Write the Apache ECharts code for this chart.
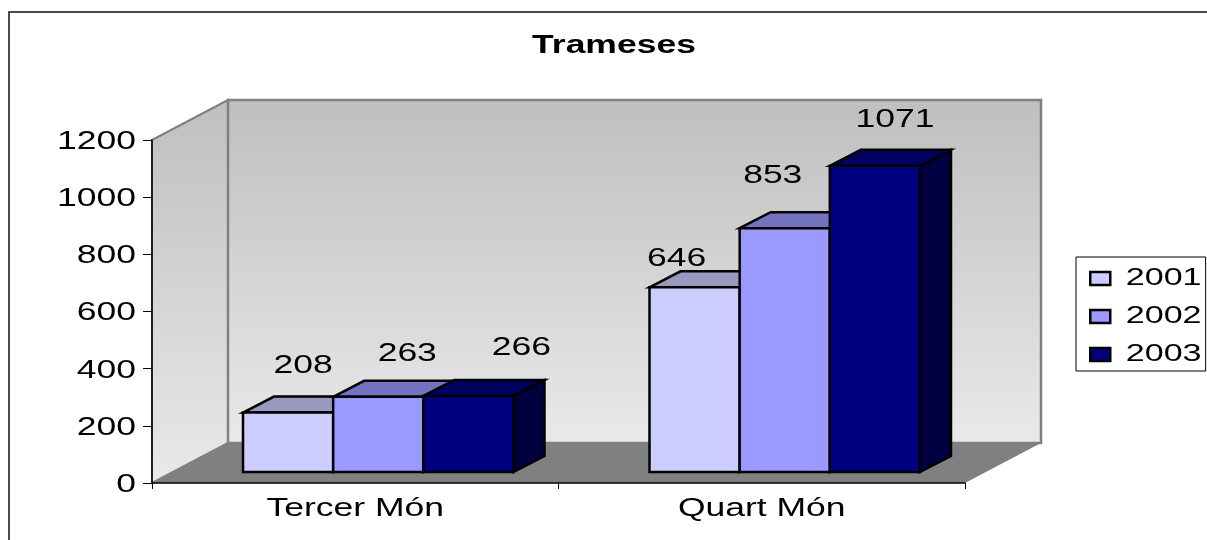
<!DOCTYPE html>
<html>
<head>
<meta charset="utf-8">
<style>html,body{margin:0;padding:0;background:#fff}#c{width:1207px;height:540px}</style>
<script src="https://cdn.jsdelivr.net/npm/echarts@6/dist/echarts.min.js"></script>
</head>
<body>
<div id="c"></div>
<script>
const titleText = 'Trameses';
const categories = ['Tercer Món', 'Quart Món'];
const seriesNames = ['2001', '2002', '2003'];
const values2001 = [208, 646];
const values2002 = [263, 853];
const values2003 = [266, 1071];
const valueSets = [values2001, values2002, values2003];

// Styling and layout, kept apart from the data
const frontColors = ['#CCCCFF', '#9999FF', '#000080'];
const topColors = ['#9999BF', '#7373BF', '#000060'];
const sideColors = ['#666680', '#4D4D80', '#000040'];
const labelDx = [[15, 29, 53], [-18, -12, 20]];   // per series-in-category nudges
const labelDy = [[-46, -43, -48], [-28, -52, -46]];
const wallDepth = [76, -40];
const barDepth = [31, -16];
const barShift = [23, -11];
const barWidthShare = 0.2218;
const textStretch = 1.42;
const fontFamily = '"Liberation Sans", Arial, sans-serif';

function renderWalls(params, api) {
  const s = params.coordSys;
  const l = s.x, r = s.x + s.width, t = s.y, b = s.y + s.height;
  const dx = wallDepth[0], dy = wallDepth[1];
  const grad = new echarts.graphic.LinearGradient(0, 0, 0, 1, [
    { offset: 0, color: '#BFBFBF' }, { offset: 1, color: '#E9E9E9' }
  ]);
  const edge = { stroke: '#808080', lineWidth: 2.5 };
  return {
    type: 'group',
    children: [
      { type: 'polygon', shape: { points: [[l + dx, b + dy], [r + dx, b + dy], [r, b], [l, b]] },
        style: { fill: '#808080' } },
      { type: 'polygon', shape: { points: [[l, t], [l + dx, t + dy], [l + dx, b + dy], [l, b]] },
        style: Object.assign({ fill: grad }, edge, { lineWidth: 2 }) },
      { type: 'polygon', shape: { points: [[l + dx, t + dy], [r + dx, t + dy], [r + dx, b + dy], [l + dx, b + dy]] },
        style: Object.assign({ fill: grad }, edge) }
    ]
  };
}

function barRect(api, seriesIdx) {
  const cat = api.value(0), val = api.value(1);
  const base = api.coord([cat, 0]);
  const top = api.coord([cat, val]);
  const w = api.size([1, 0])[0] * barWidthShare;
  const x0 = base[0] + barShift[0] + (seriesIdx - 1.5) * w;
  return { x0: x0, x1: x0 + w, y0: top[1] + barShift[1], y1: base[1] + barShift[1], cx: x0 + w / 2 };
}

function makeBarRenderer(seriesIdx) {
  return function (params, api) {
    const q = barRect(api, seriesIdx);
    const dx = barDepth[0], dy = barDepth[1];
    const line = { stroke: '#000', lineWidth: 2.5, lineJoin: 'miter' };
    return {
      type: 'group',
      children: [
        { type: 'polygon', shape: { points: [[q.x1, q.y0], [q.x1 + dx, q.y0 + dy], [q.x1 + dx, q.y1 + dy], [q.x1, q.y1]] },
          style: Object.assign({ fill: sideColors[seriesIdx] }, line) },
        { type: 'polygon', shape: { points: [[q.x0, q.y0], [q.x0 + dx, q.y0 + dy], [q.x1 + dx, q.y0 + dy], [q.x1, q.y0]] },
          style: Object.assign({ fill: topColors[seriesIdx] }, line) },
        { type: 'rect', shape: { x: q.x0, y: q.y0, width: q.x1 - q.x0, height: q.y1 - q.y0 },
          style: Object.assign({ fill: frontColors[seriesIdx] }, line) }
      ]
    };
  };
}

function makeLabelRenderer(seriesIdx) {
  return function (params, api) {
    const q = barRect(api, seriesIdx);
    const cat = api.value(0);
    return {
      type: 'text',
      x: q.cx + labelDx[cat][seriesIdx],
      y: q.y0 + labelDy[cat][seriesIdx],
      style: { text: String(api.value(1)), fill: '#000', align: 'center', verticalAlign: 'middle',
        font: '25px ' + fontFamily }
    };
  };
}

const chart = echarts.init(document.getElementById('c'), null, { renderer: 'canvas' });
const barSeries = seriesNames.map(function (name, i) {
  return {
    name: name, type: 'custom', coordinateSystem: 'cartesian2d', z: 6,
    itemStyle: { color: frontColors[i], borderColor: '#000', borderWidth: 2 },
    renderItem: makeBarRenderer(i),
    encode: { x: 0, y: 1 },
    data: categories.map(function (c, k) { return [k, valueSets[i][k]]; })
  };
});
const labelSeries = seriesNames.map(function (name, i) {
  return {
    name: name + ' labels', type: 'custom', coordinateSystem: 'cartesian2d', z: 7, silent: true,
    renderItem: makeLabelRenderer(i),
    encode: { x: 0, y: 1 },
    data: categories.map(function (c, k) { return [k, valueSets[i][k]]; })
  };
});

chart.setOption({
  animation: false,
  backgroundColor: '#fff',
  title: {
    text: titleText, left: 609, top: 28, textAlign: 'center',
    textStyle: { fontFamily: fontFamily, fontWeight: 'bold', fontSize: 25, color: '#000', lineHeight: 26 }
  },
  grid: { left: 152, right: 242, top: 140, bottom: 57 },
  legend: {
    data: seriesNames, orient: 'vertical', left: 1076, top: 257,
    padding: [8, 37, 3, 13],
    itemWidth: 20, itemHeight: 13, itemGap: 11,
    icon: 'rect', backgroundColor: '#fff', borderColor: '#000', borderWidth: 1, borderRadius: 0,
    itemStyle: { borderColor: '#000', borderWidth: 2.5 },
    textStyle: { fontFamily: fontFamily, fontSize: 24, color: '#000', lineHeight: 27 }
  },
  xAxis: {
    type: 'category', data: categories, z: 5,
    axisLine: { lineStyle: { color: '#000', width: 1.5 } },
    axisTick: { show: true, length: 6, alignWithLabel: false, lineStyle: { color: '#000' } },
    axisLabel: { fontFamily: fontFamily, fontSize: 25, color: '#000', margin: 14, interval: 0 },
    splitLine: { show: false }
  },
  yAxis: {
    type: 'value', min: 0, max: 1200, interval: 200, z: 5,
    axisLine: { show: true, lineStyle: { color: '#000', width: 1.5 } },
    axisTick: { show: true, length: 9, lineStyle: { color: '#000' } },
    axisLabel: { fontFamily: fontFamily, fontSize: 25, color: '#000', margin: 16,
      verticalAlign: 'top', lineHeight: 4,
      formatter: function (v) { return String(v); } },
    splitLine: { show: false }
  },
  graphic: [
    { type: 'polyline', silent: true, z: 0, shape: { points: [[9, 540], [9, 12], [1207, 12]] },
      style: { stroke: '#111', lineWidth: 1.5, fill: null } }
  ],
  series: [{
    name: 'walls', type: 'custom', coordinateSystem: 'cartesian2d', z: 1, silent: true,
    renderItem: renderWalls, data: [[0, 0]], encode: { x: 0, y: 1 }
  }].concat(barSeries, labelSeries)
});

// The reference's lettering is stretched sideways; widen each text about its own anchor.
const zr = chart.getZr();
zr.storage.traverse(function (el) {
  if (el.type === 'text') { el.scaleX = textStretch; el.markRedraw(); }
});
zr.refreshImmediately();
</script>
</body>
</html>
